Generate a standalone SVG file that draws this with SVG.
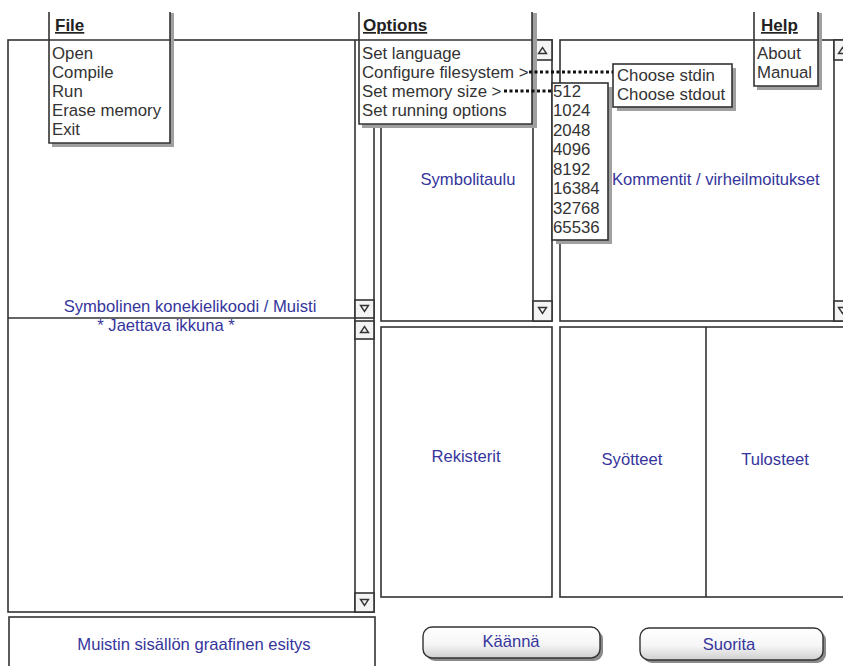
<svg xmlns="http://www.w3.org/2000/svg" width="843" height="666" viewBox="0 0 843 666">
<style>
  .frame{fill:#fff;stroke:#333;stroke-width:1.6}
  .ln{stroke:#333;stroke-width:1.6;fill:none}
  .btn{fill:#f4f4f4;stroke:#333;stroke-width:1.6}
  .arr{fill:none;stroke:#333;stroke-width:1.4}
  .lbl{font-family:"Liberation Sans",Arial,sans-serif;font-size:16.6px;fill:#35359c}
  .mi{font-family:"Liberation Sans",Arial,sans-serif;font-size:16.8px;fill:#333}
  .mh{font-family:"Liberation Sans",Arial,sans-serif;font-size:17px;font-weight:bold;fill:#222;text-decoration:underline}
  .shadow{fill:#a0a0a0}
  .menu{fill:#fff}
  .dots{stroke:#111;stroke-width:3;stroke-dasharray:3 2.5;fill:none}
</style>
<defs>
  <linearGradient id="bg" x1="0" y1="0" x2="0" y2="1">
    <stop offset="0" stop-color="#ffffff"/>
    <stop offset="0.55" stop-color="#f6f6f6"/>
    <stop offset="1" stop-color="#cfcfcf"/>
  </linearGradient>
</defs>
<rect width="843" height="666" fill="#fff"/>

<!-- Left panel: Symbolinen konekielikoodi / Muisti -->
<g id="left-panel">
  <rect class="frame" x="8" y="40" width="366" height="572"/>
  <line class="ln" x1="8" y1="318" x2="355" y2="318"/>
  <line class="ln" x1="355" y1="40" x2="355" y2="612"/>
  <rect class="btn" x="355" y="300" width="19" height="18"/>
  <path class="arr" d="M360.5 305.5 h8 l-4 6 z"/>
  <rect class="btn" x="355" y="321" width="19" height="18"/>
  <path class="arr" d="M360.5 332.5 h8 l-4 -6 z"/>
  <rect class="btn" x="355" y="593" width="19" height="19"/>
  <path class="arr" d="M360.5 599.5 h8 l-4 6 z"/>
  <text class="lbl" x="190" y="312" text-anchor="middle">Symbolinen konekielikoodi / Muisti</text>
  <text class="lbl" x="166" y="331" text-anchor="middle">* Jaettava ikkuna *</text>
</g>

<!-- Bottom left: graphic view -->
<g id="memory-graphic">
  <rect class="frame" x="9" y="617" width="366" height="60"/>
  <text class="lbl" x="194" y="650" text-anchor="middle">Muistin sisällön graafinen esitys</text>
</g>

<!-- Symbol table -->
<g id="symbol-table">
  <rect class="frame" x="381" y="40" width="171" height="281"/>
  <line class="ln" x1="533" y1="40" x2="533" y2="321"/>
  <rect class="btn" x="533" y="40" width="19" height="20"/>
  <path class="arr" d="M538.5 53.5 h8 l-4 -6 z"/>
  <rect class="btn" x="533" y="301" width="19" height="20"/>
  <path class="arr" d="M538.5 307.5 h8 l-4 6 z"/>
  <text class="lbl" x="468" y="185" text-anchor="middle">Symbolitaulu</text>
</g>

<!-- Comments / errors -->
<g id="comments">
  <rect class="frame" x="560" y="40" width="295" height="281"/>
  <line class="ln" x1="834" y1="40" x2="834" y2="321"/>
  <rect class="btn" x="834" y="40" width="19" height="20"/>
  <path class="arr" d="M838.5 53.5 h8 l-4 -6 z"/>
  <rect class="btn" x="834" y="301" width="19" height="20"/>
  <path class="arr" d="M838.5 307.5 h8 l-4 6 z"/>
  <text class="lbl" x="612" y="185">Kommentit / virheilmoitukset</text>
</g>

<!-- Registers -->
<g id="registers">
  <rect class="frame" x="381" y="327" width="171" height="270"/>
  <text class="lbl" x="466" y="462" text-anchor="middle">Rekisterit</text>
</g>

<!-- Inputs / outputs -->
<g id="io">
  <rect class="frame" x="560" y="327" width="295" height="270"/>
  <line class="ln" x1="706" y1="327" x2="706" y2="597"/>
  <text class="lbl" x="632" y="465" text-anchor="middle">Syötteet</text>
  <text class="lbl" x="775" y="465" text-anchor="middle">Tulosteet</text>
</g>

<!-- Buttons -->
<g id="btn-compile">
  <rect x="426" y="630" width="177" height="31" rx="9" fill="#8a8a8a"/>
  <rect x="423" y="627" width="177" height="31" rx="9" fill="url(#bg)" stroke="#333" stroke-width="1.4"/>
  <text class="lbl" x="511" y="647" text-anchor="middle">Käännä</text>
</g>
<g id="btn-run">
  <rect x="643" y="631" width="183" height="32" rx="9" fill="#8a8a8a"/>
  <rect x="640" y="628" width="183" height="32" rx="9" fill="url(#bg)" stroke="#333" stroke-width="1.4"/>
  <text class="lbl" x="729" y="650" text-anchor="middle">Suorita</text>
</g>

<!-- File menu -->
<g id="menu-file">
  <rect class="shadow" x="52" y="13" width="122" height="134"/>
  <rect class="menu" x="49" y="12" width="121" height="131"/>
  <path class="ln" d="M49 12 V143 H170 V12"/>
  <line class="ln" x1="49" y1="40" x2="170" y2="40"/>
  <text class="mh" x="55" y="31">File</text>
  <text class="mi" x="52" y="59">Open</text>
  <text class="mi" x="52" y="78">Compile</text>
  <text class="mi" x="52" y="97">Run</text>
  <text class="mi" x="52" y="116">Erase memory</text>
  <text class="mi" x="52" y="135">Exit</text>
</g>

<!-- Options menu -->
<g id="menu-options">
  <rect class="shadow" x="362" y="13" width="175" height="115"/>
  <rect class="menu" x="359" y="12" width="173" height="112"/>
  <path class="ln" d="M359 12 V124 H532 V12"/>
  <line class="ln" x1="359" y1="40" x2="532" y2="40"/>
  <text class="mh" x="363" y="31">Options</text>
  <text class="mi" x="362" y="59">Set language</text>
  <text class="mi" x="362" y="78">Configure filesystem &gt;</text>
  <text class="mi" x="362" y="97">Set memory size &gt;</text>
  <text class="mi" x="362" y="116">Set running options</text>
</g>

<!-- Help menu -->
<g id="menu-help">
  <rect class="shadow" x="757" y="13" width="65" height="77"/>
  <rect class="menu" x="754" y="12" width="64" height="74"/>
  <path class="ln" d="M754 12 V86 H818 V12"/>
  <line class="ln" x1="754" y1="40" x2="818" y2="40"/>
  <text class="mh" x="761" y="31">Help</text>
  <text class="mi" x="757" y="59">About</text>
  <text class="mi" x="757" y="78">Manual</text>
</g>

<!-- Filesystem submenu -->
<g id="submenu-filesystem">
  <rect class="shadow" x="617" y="68" width="119" height="43"/>
  <rect class="frame" x="613" y="64" width="119" height="43"/>
  <text class="mi" x="617" y="81">Choose stdin</text>
  <text class="mi" x="617" y="100">Choose stdout</text>
</g>

<!-- Memory size submenu -->
<g id="submenu-memory">
  <rect class="shadow" x="556" y="87" width="56" height="157"/>
  <rect class="frame" x="552" y="83" width="56" height="157"/>
  <text class="mi" x="553" y="97">512</text>
  <text class="mi" x="553" y="116">1024</text>
  <text class="mi" x="553" y="136">2048</text>
  <text class="mi" x="553" y="155">4096</text>
  <text class="mi" x="553" y="175">8192</text>
  <text class="mi" x="553" y="194">16384</text>
  <text class="mi" x="553" y="214">32768</text>
  <text class="mi" x="553" y="233">65536</text>
</g>

<!-- Connectors -->
<g id="connectors">
  <line class="dots" x1="529" y1="72" x2="613" y2="72"/>
  <line class="dots" x1="504" y1="91" x2="552" y2="91"/>
</g>
</svg>
